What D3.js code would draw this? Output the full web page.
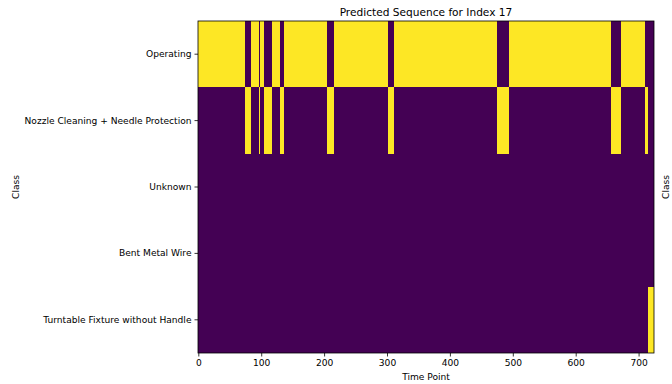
<!DOCTYPE html>
<html>
<head>
<meta charset="utf-8">
<script src="https://cdn.jsdelivr.net/npm/d3@7"></script>
<style>
  body { margin: 0; background: #fff; }
  text { font-family: "DejaVu Sans", sans-serif; fill: #000; }
</style>
</head>
<body>
<svg id="root"></svg>
<script>
// class labels, top to bottom
const classes = ["Operating", "Nozzle Cleaning + Needle Protection", "Unknown", "Bent Metal Wire", "Turntable Fixture without Handle"]
const seqLength = 725
// predicted sequence as runs: start index and class index
const runStarts = [0, 74, 84, 97, 99, 105, 118, 131, 136, 205, 216, 302, 311, 475, 495, 656, 672, 710, 715]
const runClass  = [0, 1, 0, 1, 0, 1, 0, 1, 0, 1, 0, 1, 0, 1, 0, 1, 0, 1, 4]
const xTicks = [0, 100, 200, 300, 400, 500, 600, 700]

const W = 672, H = 384
const margin = { top: 21, right: 18, bottom: 31, left: 198 }
const width = 654 - margin.left, height = 353 - margin.top

const svg = d3.select("#root").attr("width", W).attr("height", H)
const g = svg.append("g").attr("transform", `translate(${margin.left},${margin.top})`)

const x = d3.scaleLinear([-0.5, seqLength - 0.5], [0, width])
const y = d3.scaleBand(classes, [0, height])

// build cells: one per run per class row
const runs = runStarts.map((s, i) => ({
  start: s,
  end: i + 1 < runStarts.length ? runStarts[i + 1] : seqLength,
  cls: runClass[i]
}))
const cells = []
classes.forEach((c, ci) => {
  runs.forEach(r => cells.push({ row: c, start: r.start, end: r.end, on: r.cls == ci }))
})

g.selectAll("rect.cell")
  .data(cells)
  .join("rect")
  .attr("class", "cell")
  .attr("x", d => x(d.start - 0.5))
  .attr("width", d => x(d.end - 0.5) - x(d.start - 0.5))
  .attr("y", d => y(d.row))
  .attr("height", y.bandwidth())
  .attr("fill", d => d.on ? "#fde725" : "#440154")
  .attr("shape-rendering", "crispEdges")

// frame
g.append("rect")
  .attr("width", width).attr("height", height)
  .attr("fill", "none").attr("stroke", "#000").attr("stroke-width", 0.8)

// axes
const xAxis = g.append("g")
  .attr("transform", `translate(0,${height})`)
  .call(d3.axisBottom(x).tickValues(xTicks).tickSize(3.5).tickPadding(3))
const yAxis = g.append("g")
  .call(d3.axisLeft(y).tickSize(3.5).tickPadding(3))
;[xAxis, yAxis].forEach(a => {
  a.select(".domain").remove()
  a.selectAll("text").attr("font-size", "9.1px").attr("font-family", "DejaVu Sans")
  a.selectAll("line").attr("stroke-width", 0.8)
})

// title and labels
svg.append("text")
  .attr("x", margin.left + width / 2).attr("y", 16)
  .attr("text-anchor", "middle").attr("font-size", "10.6px")
  .text("Predicted Sequence for Index 17")

svg.append("text")
  .attr("x", margin.left + width / 2).attr("y", 380)
  .attr("text-anchor", "middle").attr("font-size", "9.1px")
  .text("Time Point")

svg.append("text")
  .attr("transform", `translate(19,${margin.top + height / 2}) rotate(-90)`)
  .attr("text-anchor", "middle").attr("font-size", "9.1px")
  .text("Class")

svg.append("text")
  .attr("transform", `translate(669,${margin.top + height / 2}) rotate(-90)`)
  .attr("text-anchor", "middle").attr("font-size", "9.1px")
  .text("Class")
</script>
</body>
</html>
